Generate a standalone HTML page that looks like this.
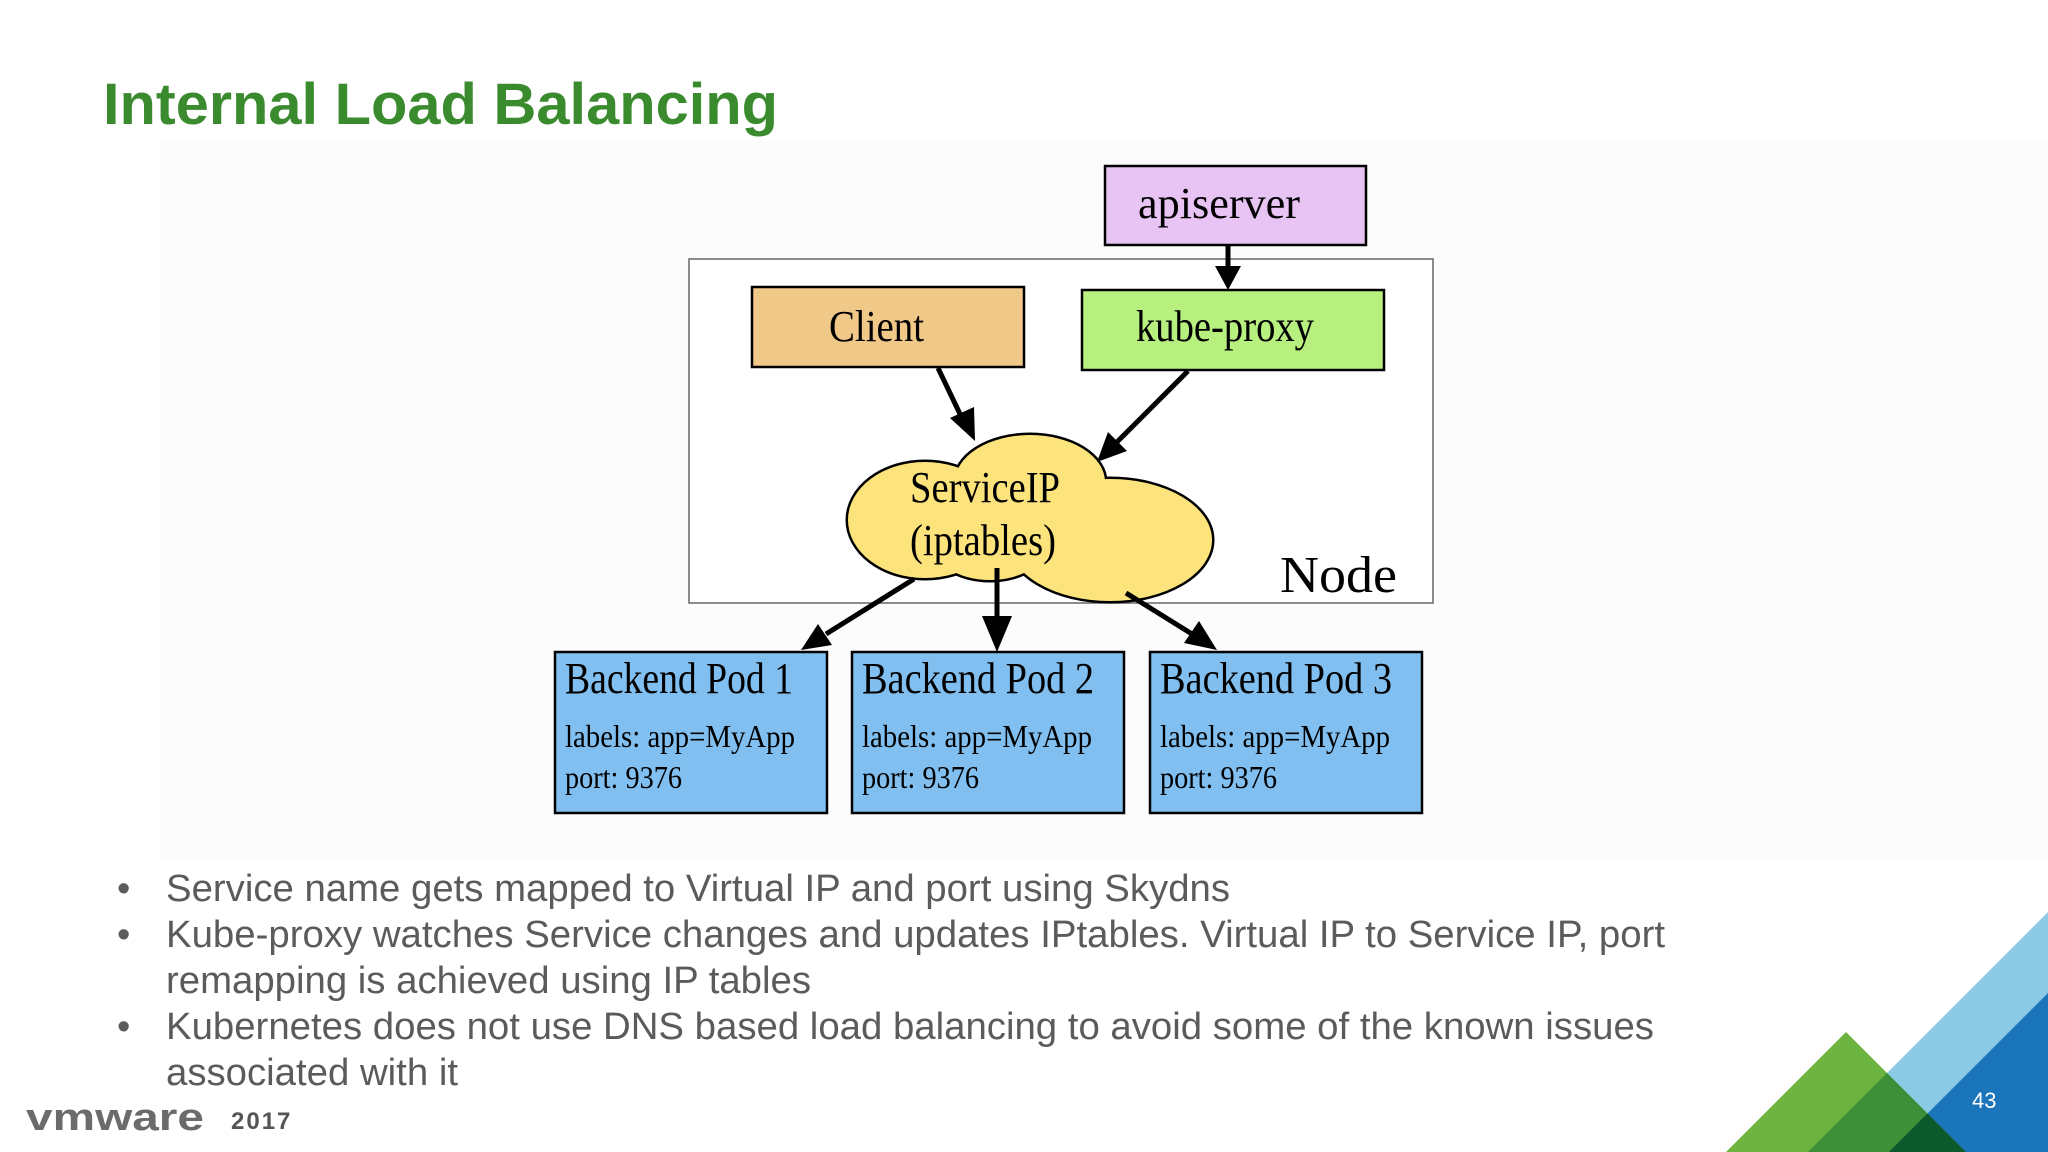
<!DOCTYPE html>
<html><head><meta charset="utf-8"><style>
html,body{margin:0;padding:0;background:#fff;}
body{width:2048px;height:1152px;overflow:hidden;position:relative;font-family:"Liberation Sans",sans-serif;}
</style></head><body>
<svg width="2048" height="1152" viewBox="0 0 2048 1152" xmlns="http://www.w3.org/2000/svg" style="position:absolute;left:0;top:0">
<defs>
<clipPath id="cg"><polygon points="1846,1032 1966,1152 1726,1152"/></clipPath>
</defs>
<rect x="160" y="140" width="1888" height="720" fill="#fcfcfc"/>
<text x="103" y="124" font-family="Liberation Sans, sans-serif" font-weight="bold" font-size="58" fill="#3a8a2e" textLength="675" lengthAdjust="spacingAndGlyphs">Internal Load Balancing</text>

<rect x="689" y="259" width="744" height="344" fill="#fff" stroke="#666" stroke-width="1.5"/>
<text x="1280" y="592" font-family="Liberation Serif, serif" font-size="52" fill="#000" textLength="117" lengthAdjust="spacingAndGlyphs">Node</text>

<rect x="1105" y="166" width="261" height="79" fill="#e8c4f4" stroke="#000" stroke-width="2.5"/>
<text x="1138" y="218" font-family="Liberation Serif, serif" font-size="44" textLength="162" lengthAdjust="spacingAndGlyphs">apiserver</text>
<rect x="752" y="287" width="272" height="80" fill="#f0c888" stroke="#000" stroke-width="2.5"/>
<text x="829" y="341" font-family="Liberation Serif, serif" font-size="44" textLength="95" lengthAdjust="spacingAndGlyphs">Client</text>
<rect x="1082" y="290" width="302" height="80" fill="#b8f080" stroke="#000" stroke-width="2.5"/>
<text x="1136" y="341" font-family="Liberation Serif, serif" font-size="44" textLength="178" lengthAdjust="spacingAndGlyphs">kube-proxy</text>

<g stroke="#000" stroke-width="5">
<ellipse cx="925" cy="520" rx="77" ry="58"/>
<ellipse cx="1030" cy="482" rx="75" ry="47"/>
<ellipse cx="1110" cy="540" rx="102" ry="61"/>
<ellipse cx="990" cy="540" rx="60" ry="40"/>
</g>
<g fill="#fde37c">
<ellipse cx="925" cy="520" rx="77" ry="58"/>
<ellipse cx="1030" cy="482" rx="75" ry="47"/>
<ellipse cx="1110" cy="540" rx="102" ry="61"/>
<ellipse cx="990" cy="540" rx="60" ry="40"/>
</g>
<text x="910" y="502" font-family="Liberation Serif, serif" font-size="44" textLength="150" lengthAdjust="spacingAndGlyphs">ServiceIP</text>
<text x="910" y="555" font-family="Liberation Serif, serif" font-size="44" textLength="146" lengthAdjust="spacingAndGlyphs">(iptables)</text>

<g font-family="Liberation Serif, serif">
<rect x="555" y="652" width="272" height="161" fill="#80bff0" stroke="#000" stroke-width="2.5"/>
<text x="565" y="693" font-size="44" textLength="228" lengthAdjust="spacingAndGlyphs">Backend Pod 1</text>
<text x="565" y="747" font-size="32" textLength="230" lengthAdjust="spacingAndGlyphs">labels: app=MyApp</text>
<text x="565" y="788" font-size="32" textLength="117" lengthAdjust="spacingAndGlyphs">port: 9376</text>
<rect x="852" y="652" width="272" height="161" fill="#80bff0" stroke="#000" stroke-width="2.5"/>
<text x="862" y="693" font-size="44" textLength="232" lengthAdjust="spacingAndGlyphs">Backend Pod 2</text>
<text x="862" y="747" font-size="32" textLength="230" lengthAdjust="spacingAndGlyphs">labels: app=MyApp</text>
<text x="862" y="788" font-size="32" textLength="117" lengthAdjust="spacingAndGlyphs">port: 9376</text>
<rect x="1150" y="652" width="272" height="161" fill="#80bff0" stroke="#000" stroke-width="2.5"/>
<text x="1160" y="693" font-size="44" textLength="232" lengthAdjust="spacingAndGlyphs">Backend Pod 3</text>
<text x="1160" y="747" font-size="32" textLength="230" lengthAdjust="spacingAndGlyphs">labels: app=MyApp</text>
<text x="1160" y="788" font-size="32" textLength="117" lengthAdjust="spacingAndGlyphs">port: 9376</text>
</g>

<g stroke="#000" stroke-width="5" fill="none">
<line x1="1228" y1="245" x2="1228" y2="270"/>
<line x1="938" y1="368" x2="960" y2="414"/>
<line x1="1188" y1="371" x2="1117" y2="442"/>
<line x1="914" y1="579" x2="826" y2="634"/>
<line x1="997" y1="568" x2="997" y2="620"/>
<line x1="1126" y1="593" x2="1192" y2="634"/>
</g>
<g fill="#000">
<polygon points="1228,290 1215,266 1241,266"/>
<polygon points="975,441 950,418 974,407"/>
<polygon points="1097,462 1108,432 1127,451"/>
<polygon points="801,650 818,624 832,645"/>
<polygon points="997,652 982,616 1012,616"/>
<polygon points="1217,650 1184,643 1199,621"/>
</g>

<g font-family="Liberation Sans, sans-serif" font-size="38" fill="#5b5b5b">
<text x="117" y="901">•</text><text x="166" y="901" textLength="1064" lengthAdjust="spacingAndGlyphs">Service name gets mapped to Virtual IP and port using Skydns</text>
<text x="117" y="947">•</text><text x="166" y="947" textLength="1499" lengthAdjust="spacingAndGlyphs">Kube-proxy watches Service changes and updates IPtables. Virtual IP to Service IP, port</text>
<text x="166" y="993" textLength="645" lengthAdjust="spacingAndGlyphs">remapping is achieved using IP tables</text>
<text x="117" y="1039">•</text><text x="166" y="1039" textLength="1488" lengthAdjust="spacingAndGlyphs">Kubernetes does not use DNS based load balancing to avoid some of the known issues</text>
<text x="166" y="1085" textLength="292" lengthAdjust="spacingAndGlyphs">associated with it</text>
</g>

<text x="26" y="1130" font-family="Liberation Sans, sans-serif" font-size="38" font-weight="bold" fill="#6b6b6b" textLength="178" lengthAdjust="spacingAndGlyphs">vmware</text>
<text x="231" y="1129" font-family="Liberation Sans, sans-serif" font-size="24" font-weight="bold" fill="#555" letter-spacing="2">2017</text>

<polygon points="2048,912 2048,1152 1808,1152" fill="#8ccbe3"/>
<polygon points="2048,993 2048,1152 1889,1152" fill="#1a75bb"/>
<polygon points="1846,1032 1966,1152 1726,1152" fill="#6db33f"/>
<g clip-path="url(#cg)">
<polygon points="2048,912 2048,1152 1808,1152" fill="#3d8f3a"/>
<polygon points="2048,993 2048,1152 1889,1152" fill="#0b5a2e"/>
</g>
<text x="1972" y="1108" font-family="Liberation Sans, sans-serif" font-size="22" fill="#fff">43</text>
</svg>
</body></html>
